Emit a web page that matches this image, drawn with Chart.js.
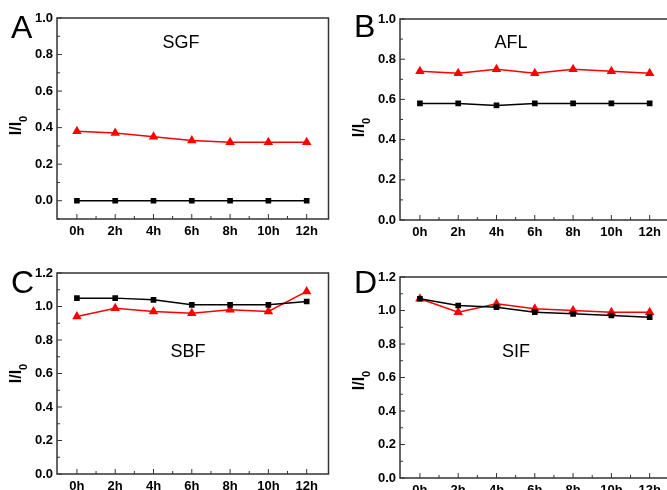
<!DOCTYPE html>
<html>
<head>
<meta charset="utf-8">
<script src="https://cdn.jsdelivr.net/npm/chart.js@4/dist/chart.umd.min.js"></script>
<style>
  html, body { margin: 0; padding: 0; background: #fff; overflow: hidden; width: 667px; height: 490px; }
  canvas { position: absolute; }
</style>
</head>
<body>
<canvas id="panelA"></canvas>
<canvas id="panelB"></canvas>
<canvas id="panelC"></canvas>
<canvas id="panelD"></canvas>
<script>
// time points (hours) and tick labels
const hours = [0, 2, 4, 6, 8, 10, 12];
const yTicksA = [0, 0.2, 0.4, 0.6, 0.8, 1.0];
const yTicksC = [0, 0.2, 0.4, 0.6, 0.8, 1.0, 1.2];

// A - SGF
const sgfBlack = [0, 0, 0, 0, 0, 0, 0];
const sgfRed = [0.38, 0.37, 0.35, 0.33, 0.32, 0.32, 0.32];
// B - AFL
const aflBlack = [0.58, 0.58, 0.57, 0.58, 0.58, 0.58, 0.58];
const aflRed = [0.74, 0.73, 0.75, 0.73, 0.75, 0.74, 0.73];
// C - SBF
const sbfBlack = [1.05, 1.05, 1.04, 1.01, 1.01, 1.01, 1.03];
const sbfRed = [0.94, 0.99, 0.97, 0.96, 0.98, 0.97, 1.09];
// D - SIF
const sifBlack = [1.07, 1.03, 1.02, 0.99, 0.98, 0.97, 0.96];
const sifRed = [1.07, 0.99, 1.04, 1.01, 1.00, 0.99, 0.99];

const FONT = "'Liberation Sans', Arial, sans-serif";

/*
|--------------------------------------------------------------------------
| Frame, inward ticks, panel letter, title and y label
|--------------------------------------------------------------------------
*/
const panelDecor = {
    id: "panelDecor",
    afterDraw(chart, args, opts) {
        const ctx = chart.ctx;
        const a = chart.chartArea;
        const xs = chart.scales.x;
        const ys = chart.scales.y;
        ctx.save();

        // ticks (major + minor), pointing inward
        ctx.strokeStyle = "#333";
        ctx.lineWidth = 1;
        ctx.beginPath();
        opts.yTicks.forEach((v, i) => {
            const p = ys.getPixelForValue(v);
            ctx.moveTo(a.left, p); ctx.lineTo(a.left + 5, p);
            if (i > 0) {
                const m = ys.getPixelForValue((v + opts.yTicks[i - 1]) / 2);
                ctx.moveTo(a.left, m); ctx.lineTo(a.left + 3, m);
            }
        });
        if (ys.min < opts.yTicks[0]) {
            const m = ys.getPixelForValue(opts.yTicks[0] - (opts.yTicks[1] - opts.yTicks[0]) / 2);
            ctx.moveTo(a.left, m); ctx.lineTo(a.left + 3, m);
        }
        hours.forEach((h, i) => {
            const p = xs.getPixelForValue(h);
            ctx.moveTo(p, a.bottom); ctx.lineTo(p, a.bottom - 5);
            if (i > 0) {
                const m = xs.getPixelForValue((h + hours[i - 1]) / 2);
                ctx.moveTo(m, a.bottom); ctx.lineTo(m, a.bottom - 3);
            }
        });
        ctx.stroke();

        // frame
        ctx.lineWidth = 1.5;
        ctx.strokeRect(a.left, a.top, a.right - a.left, a.bottom - a.top);

        // panel letter
        ctx.fillStyle = "#000";
        ctx.textAlign = "left";
        ctx.textBaseline = "alphabetic";
        ctx.font = "32px " + FONT;
        ctx.fillText(opts.letter, a.left - 46, a.top + opts.letterDy);

        // medium name
        ctx.font = "18px " + FONT;
        ctx.textAlign = "center";
        ctx.textBaseline = "middle";
        ctx.fillText(opts.name, a.left + opts.nameDx, a.top + opts.nameDy);

        // y label I/I0
        ctx.translate(a.left - 36, (a.top + a.bottom) / 2 + opts.labelDy);
        ctx.rotate(-Math.PI / 2);
        ctx.textAlign = "left";
        ctx.textBaseline = "alphabetic";
        ctx.font = "bold 16px " + FONT;
        const w1 = ctx.measureText("I/I").width;
        ctx.font = "bold 11px " + FONT;
        const w2 = ctx.measureText("0").width;
        const start = -(w1 + w2) / 2;
        ctx.font = "bold 16px " + FONT;
        ctx.fillText("I/I", start, 0);
        ctx.font = "bold 11px " + FONT;
        ctx.fillText("0", start + w1, 6);
        ctx.restore();
    }
};

function makePanel(id, box, pad, yAxisW, xAxisH, yMin, yMax, yTicks, black, red, decor) {
    const canvas = document.getElementById(id);
    canvas.width = box.w;
    canvas.height = box.h;
    canvas.style.left = box.x + "px";
    canvas.style.top = box.y + "px";
    canvas.style.width = box.w + "px";
    canvas.style.height = box.h + "px";

    const tickFont = { family: FONT, size: 13, weight: "bold" };

    new Chart(canvas, {
        type: "line",
        data: {
            datasets: [
                {
                    label: "black",
                    data: hours.map((h, i) => ({ x: h, y: black[i] })),
                    borderColor: "#000",
                    backgroundColor: "#000",
                    borderWidth: 1.5,
                    pointStyle: "rect",
                    pointRadius: 4,
                    pointBorderWidth: 0
                },
                {
                    label: "red",
                    data: hours.map((h, i) => ({ x: h, y: red[i] })),
                    borderColor: "#f00",
                    backgroundColor: "#f00",
                    borderWidth: 1.5,
                    pointStyle: "triangle",
                    pointRadius: 5.5,
                    pointBorderWidth: 0
                }
            ]
        },
        options: {
            responsive: false,
            animation: false,
            layout: { padding: pad },
            plugins: {
                legend: { display: false },
                tooltip: { enabled: false },
                panelDecor: Object.assign({ yTicks: yTicks }, decor)
            },
            scales: {
                x: {
                    type: "linear",
                    min: -1.04,
                    max: 13.14,
                    afterBuildTicks: s => { s.ticks = hours.map(v => ({ value: v })); },
                    afterFit: s => { s.height = xAxisH; },
                    grid: { display: false, drawTicks: false },
                    border: { display: false },
                    ticks: {
                        color: "#000",
                        font: tickFont,
                        padding: 5,
                        maxRotation: 0,
                        autoSkip: false,
                        callback: v => v + "h"
                    }
                },
                y: {
                    min: yMin,
                    max: yMax,
                    afterBuildTicks: s => { s.ticks = yTicks.map(v => ({ value: v })); },
                    afterFit: s => { s.width = yAxisW; },
                    grid: { display: false, drawTicks: false },
                    border: { display: false },
                    ticks: {
                        color: "#000",
                        font: tickFont,
                        padding: 4,
                        callback: v => v.toFixed(1)
                    }
                }
            }
        },
        plugins: [panelDecor]
    });
}

document.addEventListener("DOMContentLoaded", function () {
    makePanel("panelA", { x: 0, y: 0, w: 334, h: 245 },
        { top: 18, right: 4, bottom: 0, left: 0 }, 57, 26,
        -0.1, 1.0, yTicksA, sgfBlack, sgfRed,
        { letter: "A", letterDy: 20, name: "SGF", nameDx: 124, nameDy: 25, labelDy: 7 });

    makePanel("panelB", { x: 334, y: 0, w: 343, h: 245 },
        { top: 19, right: 4, bottom: 0, left: 0 }, 66, 25,
        0, 1.0, yTicksA, aflBlack, aflRed,
        { letter: "B", letterDy: 18, name: "AFL", nameDx: 111, nameDy: 24, labelDy: 8 });

    makePanel("panelC", { x: 0, y: 245, w: 334, h: 245 },
        { top: 28, right: 4, bottom: 0, left: 0 }, 57, 16,
        0, 1.2, yTicksC, sbfBlack, sbfRed,
        { letter: "C", letterDy: 20, name: "SBF", nameDx: 131, nameDy: 79, labelDy: 0 });

    makePanel("panelD", { x: 334, y: 245, w: 343, h: 245 },
        { top: 32, right: 4, bottom: 0, left: 0 }, 66, 12,
        0, 1.2, yTicksC, sifBlack, sifRed,
        { letter: "D", letterDy: 16, name: "SIF", nameDx: 116, nameDy: 75, labelDy: 3 });
});
</script>
</body>
</html>
